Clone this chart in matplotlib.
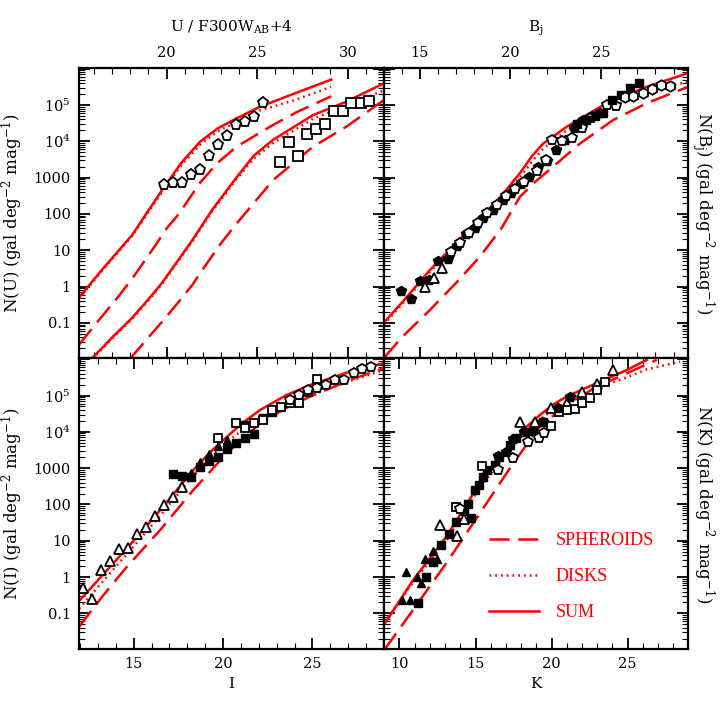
import numpy as np
import matplotlib
matplotlib.use("Agg")
import matplotlib.pyplot as plt
from matplotlib.ticker import FixedLocator, FixedFormatter, MultipleLocator, LogLocator, NullFormatter

plt.rcParams["font.family"] = ["DejaVu Serif"]
plt.rcParams["mathtext.fontset"] = "dejavuserif"

RED = "#ff0000"

# ---------------- U / F300W panel (log10 N) ----------------
u_sum_x = [15.17, 16.5, 18.1, 19.02, 19.81, 20.8, 21.83, 22.8, 23.85, 25.14, 26.97, 29.08]
u_sum_y = [-0.30, 0.50, 1.42, 2.11, 2.70, 3.40, 3.98, 4.35, 4.63, 4.95, 5.30, 5.70]
u_disk_y = [-0.33, 0.47, 1.39, 2.07, 2.65, 3.33, 3.90, 4.27, 4.53, 4.85, 5.12, 5.50]
u_sph_x = [15.17, 16.27, 17.3, 18.07, 18.5, 19.39, 20.0, 20.68, 21.83, 22.8, 23.85, 25.87, 27.16, 29.08]
u_sph_y = [-1.60, -0.92, -0.30, 0.20, 0.50, 1.14, 1.60, 2.00, 2.85, 3.40, 3.85, 4.45, 4.80, 5.24]

f3_sum_x = [15.9, 17.0, 18.1, 19.0, 19.76, 20.6, 21.41, 22.51, 23.85, 24.8, 25.87, 28.07, 29.91, 32.0]
f3_sum_y = [-1.97, -1.40, -0.86, -0.35, 0.11, 0.70, 1.27, 2.11, 3.00, 3.60, 4.04, 4.72, 5.09, 5.60]
f3_disk_y = [-2.00, -1.43, -0.89, -0.38, 0.08, 0.67, 1.24, 2.07, 2.95, 3.52, 3.95, 4.62, 4.97, 5.41]
f3_sph_x = [18.0, 19.0, 19.94, 20.7, 21.41, 21.96, 23.06, 23.89, 25.87, 28.07, 29.91, 32.0]
f3_sph_y = [-1.98, -1.40, -0.86, -0.40, 0.04, 0.45, 1.23, 1.75, 2.93, 3.85, 4.40, 5.14]

u_pent_x = [19.85, 20.36, 20.86, 21.35, 21.85, 22.35, 22.84, 23.34, 23.83, 24.35, 24.84, 25.34]
u_pent_y = [2.80, 2.84, 2.84, 3.07, 3.21, 3.60, 3.90, 4.15, 4.45, 4.54, 4.68, 5.05]
u_sq_x = [26.24, 26.73, 27.23, 27.73, 28.22, 28.72, 29.21, 29.71, 30.20, 30.70, 31.19]
u_sq_y = [3.42, 3.97, 3.60, 4.19, 4.33, 4.47, 4.84, 4.83, 5.05, 5.05, 5.11]

# ---------------- Bj panel ----------------
b_x = [13.0, 14.0, 15.55, 17.0, 18.31, 19.5, 20.52, 21.2, 21.81, 23.1, 25.31, 27.52, 29.8]
b_sum_y = [-1.00, -0.45, 0.45, 1.20, 1.88, 2.50, 3.12, 3.60, 3.94, 4.40, 5.05, 5.50, 5.88]
b_disk_y = [-1.05, -0.50, 0.40, 1.15, 1.85, 2.45, 3.00, 3.45, 3.80, 4.30, 4.90, 5.35, 5.65]
b_sph_x = [13.07, 14.0, 15.55, 17.0, 18.31, 19.5, 20.52, 21.4, 22.35, 23.84, 25.68, 27.52, 29.8]
b_sph_y = [-1.94, -1.40, -0.65, 0.10, 0.82, 1.60, 2.47, 2.90, 3.30, 3.94, 4.59, 5.05, 5.50]

b_fpent_x = [13.99, 14.50, 15.0, 15.52, 16.01, 16.53, 17.03, 17.54, 18.04, 18.50, 19.05, 19.57,
             20.06, 20.56, 21.04, 21.54, 22.0, 22.51, 23.01, 23.53, 24.02, 24.48, 24.94]
b_fpent_y = [-0.12, -0.33, 0.16, 0.18, 0.70, 0.77, 1.11, 1.46, 1.62, 1.89, 2.11, 2.38,
             2.58, 2.82, 3.02, 3.30, 3.47, 3.76, 4.04, 4.36, 4.59, 4.70, 4.77]
b_otri_x = [15.31, 15.77, 16.25]
b_otri_y = [-0.01, 0.25, 0.52]
b_opent_x = [16.71, 17.21, 17.73, 18.22, 18.72, 19.24, 19.75, 20.25, 20.75, 21.45, 21.94,
             22.31, 22.83, 23.38, 23.93, 24.43, 25.31, 25.81]
b_opent_y = [0.96, 1.20, 1.48, 1.74, 2.02, 2.24, 2.49, 2.70, 2.89, 3.19, 3.48,
             4.05, 4.02, 4.10, 4.37, 4.63, 5.00, 4.97]
b_fsq_x = [23.66, 24.17, 24.67, 25.09, 25.59, 26.09, 26.6, 27.08]
b_fsq_y = [4.47, 4.59, 4.70, 4.79, 5.14, 5.28, 5.48, 5.60]
b_ohex_x = [26.33, 26.79, 27.3, 27.8, 28.3, 28.81]
b_ohex_y = [5.21, 5.25, 5.32, 5.43, 5.55, 5.53]

# ---------------- I panel ----------------
i_x = [11.94, 13.67, 15.0, 16.47, 17.5, 18.34, 19.3, 20.21, 21.1, 22.07, 23.5, 24.87, 27.11, 28.97]
i_sum_y = [-0.66, 0.28, 1.00, 1.84, 2.45, 2.95, 3.45, 3.86, 4.25, 4.60, 5.00, 5.29, 5.66, 5.89]
i_disk_y = [-0.87, 0.10, 0.85, 1.68, 2.30, 2.80, 3.30, 3.72, 4.05, 4.35, 4.72, 5.00, 5.40, 5.70]
i_sph_x = [11.94, 13.3, 14.61, 16.47, 18.34, 20.21, 22.07, 23.5, 24.87, 27.11, 28.97]
i_sph_y = [-1.37, -0.50, 0.28, 1.29, 2.40, 3.41, 4.23, 4.65, 4.97, 5.43, 5.75]

i_otri_x = [12.14, 12.65, 13.17, 13.67, 14.18, 14.7, 15.2, 15.69, 16.19, 16.7, 17.22, 17.69]
i_otri_y = [-0.30, -0.61, 0.19, 0.44, 0.76, 0.81, 1.20, 1.38, 1.68, 1.98, 2.21, 2.47]
i_fsq_x = [17.22, 17.72, 18.23, 18.73, 19.23, 19.74, 20.24, 20.74, 21.25, 21.75, 21.25, 22.26, 22.76]
i_fsq_y = [2.84, 2.79, 2.76, 3.04, 3.19, 3.31, 3.52, 3.68, 3.82, 3.94, 4.19, 4.37, 4.55]
i_ftri_x = [18.23, 18.73, 19.23, 19.74, 20.24]
i_ftri_y = [2.86, 3.18, 3.38, 3.61, 3.77]
i_osq_x = [19.74, 20.74, 21.25, 21.75, 22.26, 22.76, 23.26, 23.77, 24.27, 24.78, 25.25]
i_osq_y = [3.82, 4.23, 4.10, 4.23, 4.32, 4.60, 4.69, 4.79, 4.79, 5.10, 5.45]
i_opent_x = [23.77, 24.27, 24.78, 25.25, 25.75, 26.25, 26.77, 27.3, 27.77, 28.27]
i_opent_y = [4.88, 5.01, 5.15, 5.20, 5.29, 5.43, 5.43, 5.61, 5.72, 5.79]

# ---------------- K panel ----------------
k_x = [9.0, 10.88, 13.07, 15.27, 16.5, 17.47, 18.3, 19.22, 20.1, 20.98, 22.96, 24.93, 26.25]
k_sum_y = [-1.30, -0.09, 1.11, 2.58, 3.25, 3.73, 4.12, 4.46, 4.75, 4.97, 5.34, 5.70, 5.98]
k_disk_x = [9.0, 10.88, 13.07, 15.27, 16.5, 17.47, 18.3, 19.22, 20.1, 20.98, 22.96, 24.93, 26.25, 28.45]
k_disk_y = [-1.25, -0.15, 1.00, 2.45, 3.10, 3.64, 4.00, 4.35, 4.60, 4.77, 5.20, 5.50, 5.72, 5.93]
k_sph_x = [9.01, 10.88, 13.07, 15.27, 17.47, 19.22, 20.98, 22.96, 24.93, 26.91]
k_sph_y = [-2.00, -0.91, 0.38, 1.75, 3.13, 4.14, 4.74, 5.24, 5.61, 5.98]

k_ftri_x = [10.18, 10.44, 10.72, 11.14, 11.43, 11.69, 12.2, 12.46]
k_ftri_y = [-0.62, 0.14, -0.62, 0.01, -0.16, 0.49, 0.72, 0.51]
k_fsq_x = [11.21, 11.71, 12.2, 12.70, 13.25, 13.73, 14.24, 14.72, 14.50, 14.98, 15.23, 15.49,
           15.75, 16.26, 16.55, 17.25, 17.69, 18.23, 18.78, 19.44]
k_fsq_y = [-0.70, 0.01, 0.42, 0.87, 1.18, 1.51, 1.82, 1.64, 2.01, 2.40, 2.53, 2.75,
           2.95, 3.08, 3.31, 3.64, 3.82, 4.00, 4.03, 4.28]
k_otri_x = [12.68, 13.77, 14.22, 17.95, 18.94, 19.99, 20.98, 21.97, 23.0, 24.01]
k_otri_y = [1.43, 1.13, 1.60, 4.28, 4.28, 4.66, 4.79, 5.10, 5.32, 5.70]
k_osq_x = [13.73, 15.45, 19.99, 20.50, 20.98, 21.53, 22.01, 22.52, 23.0, 23.5]
k_osq_y = [1.94, 3.06, 4.16, 4.55, 4.60, 4.62, 4.80, 4.94, 5.15, 5.38]
k_opent_x = [14.0, 16.48, 17.47, 18.45, 19.18, 19.48]
k_opent_y = [1.87, 2.95, 3.27, 3.71, 3.84, 3.96]
k_fpent_x = [16.48, 17.03, 17.47, 18.17, 19.44, 20.43, 21.2]
k_fpent_y = [3.33, 3.45, 3.79, 4.00, 4.28, 4.67, 4.95]


def lin(v):
    return 10 ** np.asarray(v)


def models(ax, x_sum, y_sum, x_disk, y_disk, x_sph, y_sph, label=False):
    lw = 1.8
    ax.plot(x_sph, lin(y_sph), color=RED, lw=lw, dashes=(8, 3.5),
            label="SPHEROIDS" if label else None)
    ax.plot(x_disk, lin(y_disk), color=RED, lw=lw, linestyle=(0, (0.7, 1.6)),
            label="DISKS" if label else None)
    ax.plot(x_sum, lin(y_sum), color=RED, lw=lw, label="SUM" if label else None)


def pts(ax, x, y, marker, filled, ms=7):
    if filled:
        ax.plot(x, lin(y), ls="none", marker=marker, ms=ms, color="black", mec="black")
    else:
        ax.plot(x, lin(y), ls="none", marker=marker, ms=ms, mfc="white", mec="black", mew=1.3)


fig, axs = plt.subplots(2, 2, figsize=(7.27, 7.27), dpi=100)
fig.subplots_adjust(left=0.1087, right=0.9464, top=0.9065, bottom=0.1073, wspace=0, hspace=0)
ax_u, ax_b = axs[0]
ax_i, ax_k = axs[1]

models(ax_u, u_sum_x, u_sum_y, u_sum_x, u_disk_y, u_sph_x, u_sph_y)
models(ax_u, f3_sum_x, f3_sum_y, f3_sum_x, f3_disk_y, f3_sph_x, f3_sph_y)
pts(ax_u, u_pent_x, u_pent_y, "p", False, 8)
pts(ax_u, u_sq_x, u_sq_y, "s", False, 6.5)

models(ax_b, b_x, b_sum_y, b_x, b_disk_y, b_sph_x, b_sph_y)
pts(ax_b, b_fpent_x, b_fpent_y, "p", True, 7.5)
pts(ax_b, b_otri_x, b_otri_y, "^", False, 6.5)
pts(ax_b, b_opent_x, b_opent_y, "p", False, 7.5)
pts(ax_b, b_fsq_x, b_fsq_y, "s", True, 5.5)
pts(ax_b, b_ohex_x, b_ohex_y, "h", False, 7.5)

models(ax_i, i_x, i_sum_y, i_x, i_disk_y, i_sph_x, i_sph_y)
pts(ax_i, i_otri_x, i_otri_y, "^", False, 6.5)
pts(ax_i, i_fsq_x, i_fsq_y, "s", True, 5.5)
pts(ax_i, i_ftri_x, i_ftri_y, "^", True, 6)
pts(ax_i, i_osq_x, i_osq_y, "s", False, 6)
pts(ax_i, i_opent_x, i_opent_y, "p", False, 7.5)

models(ax_k, k_x, k_sum_y, k_disk_x, k_disk_y, k_sph_x, k_sph_y, label=True)
pts(ax_k, k_ftri_x, k_ftri_y, "^", True, 6)
pts(ax_k, k_fsq_x, k_fsq_y, "s", True, 5.5)
pts(ax_k, k_otri_x, k_otri_y, "^", False, 6.5)
pts(ax_k, k_osq_x, k_osq_y, "s", False, 6)
pts(ax_k, k_opent_x, k_opent_y, "p", False, 7.5)
pts(ax_k, k_fpent_x, k_fpent_y, "p", True, 7.5)

xlims = {ax_u: (15.17, 31.97), ax_b: (13.0, 29.8), ax_i: (11.94, 28.98), ax_k: (8.95, 28.97)}
ylab = r"(gal deg$^{-2}$ mag$^{-1}$)"
ytick_vals = [1e-2, 1e-1, 1, 10, 100, 1000, 1e4, 1e5, 1e6]
ytick_txt = ["", "0.1", "1", "10", "100", "1000", r"10$^4$", r"10$^5$", ""]

for ax in (ax_u, ax_b, ax_i, ax_k):
    ax.set_yscale("log")
    ax.set_ylim(10 ** -1.98, 10 ** 6.02)
    ax.set_xlim(*xlims[ax])
    ax.xaxis.set_major_locator(MultipleLocator(5))
    ax.xaxis.set_minor_locator(MultipleLocator(1))
    ax.yaxis.set_major_locator(FixedLocator(ytick_vals))
    ax.yaxis.set_major_formatter(FixedFormatter(ytick_txt))
    ax.yaxis.set_minor_locator(LogLocator(base=10, subs=np.arange(2, 10), numticks=20))
    ax.yaxis.set_minor_formatter(NullFormatter())
    ax.tick_params(which="both", direction="in", top=True, bottom=True, left=True, right=True,
                   labelsize=10.5, colors="black")
    ax.tick_params(which="major", length=8, width=1.3, pad=6)
    ax.tick_params(which="minor", length=4, width=0.8)
    for s in ax.spines.values():
        s.set_linewidth(1.6)

# top row: x labels on top
for ax in (ax_u, ax_b):
    ax.tick_params(labeltop=True, labelbottom=False)
    ax.xaxis.set_label_position("top")
ax_u.set_xlabel(r"U / F300W$_{\rm AB}$+4", fontsize=11, labelpad=10)
ax_b.set_xlabel(r"B$_{\rm j}$", fontsize=11, labelpad=10)
ax_i.set_xlabel("I", fontsize=11, labelpad=4)
ax_k.set_xlabel("K", fontsize=11, labelpad=4)

# left column y labels
ax_u.set_ylabel("N(U) " + ylab, fontsize=12, labelpad=6)
ax_i.set_ylabel("N(I) " + ylab, fontsize=12, labelpad=6)

# right column: no y tick labels, label on right side
for ax, name in ((ax_b, r"N(B$_{\rm j}$) "), (ax_k, "N(K) ")):
    ax.tick_params(labelleft=False, labelright=False)
    ax.yaxis.set_label_position("right")
    ax.set_ylabel(name + ylab, fontsize=12, rotation=270, labelpad=20)

ax_k.legend(loc="center left", bbox_to_anchor=(0.345, 0.25), frameon=False,
            handlelength=2.8, handletextpad=0.9, labelspacing=1.05, borderpad=0,
            borderaxespad=0, labelcolor=RED,
            prop={"family": "Liberation Serif", "size": 13})

fig.savefig("out.png", dpi=100)
